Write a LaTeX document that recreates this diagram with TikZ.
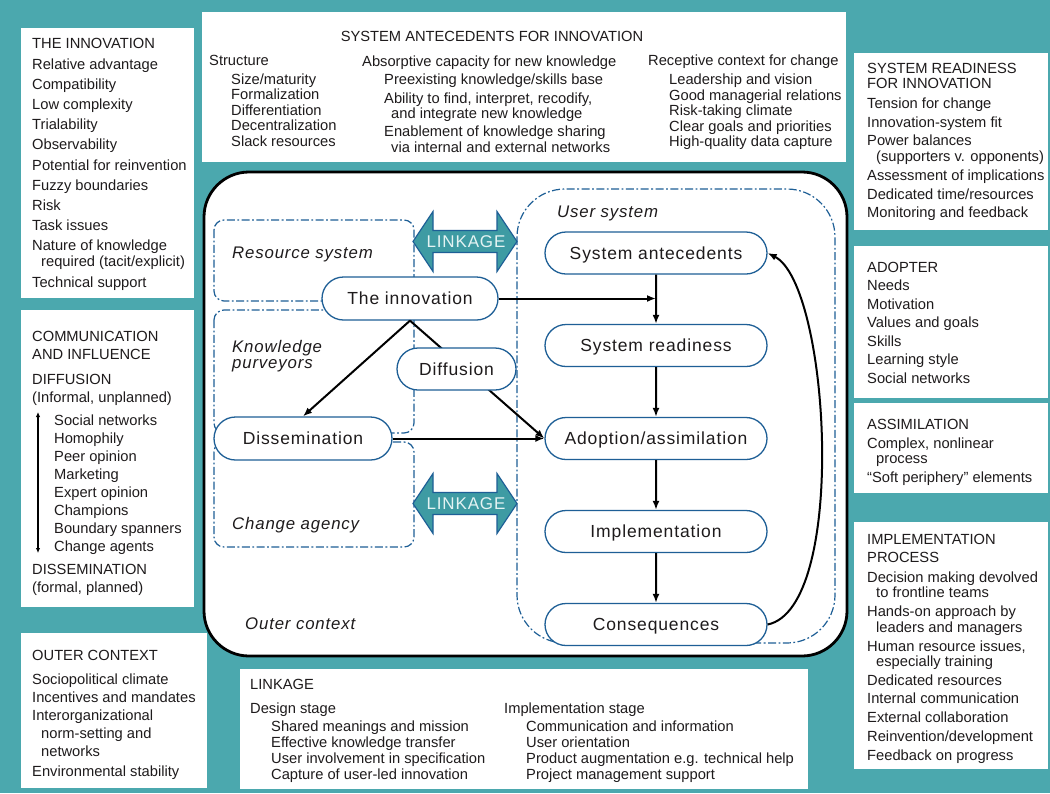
\documentclass[tikz,border=0pt]{standalone}
\usepackage{fontspec}
\setmainfont{Liberation Sans}
\newfontfamily\nodefont[LetterSpace=5]{Liberation Sans}
\usetikzlibrary{arrows.meta,shapes.misc}
\definecolor{teal0}{RGB}{75,168,174}
\definecolor{arrowfill}{RGB}{62,155,163}
\definecolor{nblue}{RGB}{30,95,150}
\definecolor{txt}{RGB}{30,27,28}
\definecolor{linktxt}{RGB}{228,243,243}
\newcommand\bxf[1]{\fontsize{14.7}{#1}\selectfont}
\begin{document}
\begin{tikzpicture}[x=1pt,y=-1pt,
  panel/.style={fill=white,draw=none},
  bt/.style={anchor=north west,inner sep=0pt,align=left,text=txt},
  ddot/.style={draw=nblue,line width=1.2pt,dash pattern=on 8pt off 2.5pt on 1.8pt off 2.5pt},
  proc/.style={rounded rectangle,draw=nblue,line width=1.3pt,fill=white,minimum height=42pt,
    inner sep=0pt,text height=12pt,text depth=0pt,text=txt,font=\nodefont\fontsize{17.5}{20}\selectfont},
  lab/.style={inner sep=0pt,text=txt,font=\nodefont\itshape\fontsize{16.8}{16.3}\selectfont},
  linklab/.style={inner sep=0pt,text=linktxt,text height=12pt,text depth=0pt,font=\nodefont\fontsize{17}{20}\selectfont},
  conn/.style={-{Latex[length=9pt,width=7pt]},line width=2pt,black},
  linkarrow/.style={draw=nblue,line width=1.2pt,fill=arrowfill,line join=miter}
]
\useasboundingbox (0,0) rectangle (1050,793);
\fill[teal0] (0,0) rectangle (1050,793);

% white panels
\fill[panel] (21,28) rectangle (194,298);
\fill[panel] (202,12) rectangle (846,162);
\fill[panel] (21,310) rectangle (194,607);
\fill[panel] (21,633) rectangle (207,788);
\fill[panel] (240,669) rectangle (808,789);
\fill[panel] (854,53) rectangle (1048,230);
\fill[panel] (854,246) rectangle (1048,398);
\fill[panel] (854,403) rectangle (1048,493);
\fill[panel] (854,522) rectangle (1048,769);

% THE INNOVATION
\node[bt,font=\bxf{16}] (tinnov) at (32,37.7) {THE INNOVATION\\[5pt]
Relative advantage\\[4.2pt]
Compatibility\\[4.2pt]
Low complexity\\[4.2pt]
Trialability\\[4.2pt]
Observability\\[4.2pt]
Potential for reinvention\\[4.2pt]
Fuzzy boundaries\\[4.2pt]
Risk\\[4.2pt]
Task issues\\[4.2pt]
Nature of knowledge\\
\hspace*{9pt}required (tacit/explicit)\\[4.2pt]
Technical support};

% COMMUNICATION AND INFLUENCE
\node[bt,font=\bxf{17.9}] (tcomm) at (32,330.7) {COMMUNICATION\\
AND INFLUENCE\\[8pt]
DIFFUSION\\
(Informal, unplanned)\\[5pt]
\hspace*{22pt}Social networks\\
\hspace*{22pt}Homophily\\
\hspace*{22pt}Peer opinion\\
\hspace*{22pt}Marketing\\
\hspace*{22pt}Expert opinion\\
\hspace*{22pt}Champions\\
\hspace*{22pt}Boundary spanners\\
\hspace*{22pt}Change agents\\[6pt]
DISSEMINATION\\
(formal, planned)};
\coordinate (ca1) at (38,412);
\coordinate (ca2) at (38,553);
\draw[{Latex[length=5pt,width=4.5pt]}-{Latex[length=5pt,width=4.5pt]},line width=1.5pt] (ca1) -- (ca2);

% OUTER CONTEXT
\node[bt,font=\bxf{17.8}] (touter) at (32,649.7) {OUTER CONTEXT\\[7pt]
Sociopolitical climate\\
Incentives and mandates\\
Interorganizational\\
\hspace*{9pt}norm-setting and\\
\hspace*{9pt}networks\\[3pt]
Environmental stability};

% SYSTEM ANTECEDENTS
\node[inner sep=0pt,text=txt,font=\bxf{16}] (tsa) at (492,36.5) {SYSTEM ANTECEDENTS FOR INNOVATION};
\node[bt,font=\bxf{15.6}] (tsa1) at (209,54.7) {Structure\\[3.4pt]
\hspace*{22pt}Size/maturity\\
\hspace*{22pt}Formalization\\
\hspace*{22pt}Differentiation\\
\hspace*{22pt}Decentralization\\
\hspace*{22pt}Slack resources};
\node[bt,font=\bxf{15.5}] (tsa2) at (362,55.2) {Absorptive capacity for new knowledge\\[3pt]
\hspace*{22pt}Preexisting knowledge/skills base\\[3pt]
\hspace*{22pt}Ability to find, interpret, recodify,\\
\hspace*{29pt}and integrate new knowledge\\[2.5pt]
\hspace*{22pt}Enablement of knowledge sharing\\
\hspace*{29pt}via internal and external networks};
\node[bt,font=\bxf{15.6}] (tsa3) at (648,54.7) {Receptive context for change\\[3.4pt]
\hspace*{21pt}Leadership and vision\\
\hspace*{21pt}Good managerial relations\\
\hspace*{21pt}Risk-taking climate\\
\hspace*{21pt}Clear goals and priorities\\
\hspace*{21pt}High-quality data capture};

% SYSTEM READINESS
\node[bt,font=\bxf{15.7}] (tsr) at (867,62.7) {SYSTEM READINESS\\
FOR INNOVATION\\[4.3pt]
Tension for change\\[2.8pt]
Innovation-system fit\\[2.8pt]
Power balances\\
\hspace*{9pt}(supporters v. opponents)\\[3.3pt]
Assessment of implications\\[2.8pt]
Dedicated time/resources\\[2.8pt]
Monitoring and feedback};

% ADOPTER
\node[bt,font=\bxf{18.5}] (tad) at (867,261.7) {ADOPTER\\
Needs\\
Motivation\\
Values and goals\\
Skills\\
Learning style\\
Social networks};

% ASSIMILATION
\node[bt,font=\bxf{15.5}] (tas) at (867,418.7) {ASSIMILATION\\[3.5pt]
Complex, nonlinear\\
\hspace*{9pt}process\\[3.5pt]
“Soft periphery” elements};

% IMPLEMENTATION PROCESS
\node[bt,font=\bxf{15.5}] (tim) at (867,533.7) {IMPLEMENTATION\\[2.5pt]
PROCESS\\[4.5pt]
Decision making devolved\\
\hspace*{9pt}to frontline teams\\[3.5pt]
Hands-on approach by\\
\hspace*{9pt}leaders and managers\\[3.5pt]
Human resource issues,\\
\hspace*{9pt}especially training\\[3pt]
Dedicated resources\\[3.3pt]
Internal communication\\[3pt]
External collaboration\\[3.3pt]
Reinvention/development\\[3.3pt]
Feedback on progress};

% LINKAGE panel
\node[bt,font=\bxf{16}] (tl1) at (250,678.7) {LINKAGE\\[8pt]
Design stage\\[2pt]
\hspace*{21pt}Shared meanings and mission\\
\hspace*{21pt}Effective knowledge transfer\\
\hspace*{21pt}User involvement in specification\\
\hspace*{21pt}Capture of user-led innovation};
\node[bt,font=\bxf{16}] (tl2) at (504,702.7) {Implementation stage\\[2pt]
\hspace*{22pt}Communication and information\\
\hspace*{22pt}User orientation\\
\hspace*{22pt}Product augmentation e.g. technical help\\
\hspace*{22pt}Project management support};

% big outer context frame
\draw[line width=2.8pt,fill=white,rounded corners=45pt] (204,172) rectangle (847,656);

% dash-dot subsystems
\draw[ddot,rounded corners=10pt] (214,220) rectangle (414,301);
\draw[ddot,rounded corners=10pt] (214,310) rectangle (414,433);
\draw[ddot,rounded corners=10pt] (214,442) rectangle (414,547);
\draw[ddot,rounded corners=48pt] (517,189) rectangle (835,643);

% labels
\node[lab,anchor=west,text height=12pt,text depth=0pt] (lres) at (232,252) {Resource system};
\node[lab,anchor=north west,align=left] (lkp) at (232,339.8) {Knowledge\\purveyors};
\node[lab,anchor=west,text height=12pt,text depth=0pt] (lca) at (232,523.5) {Change agency};
\node[lab,anchor=west,text height=12pt,text depth=0pt] (loc) at (245,623.5) {Outer context};
\node[lab,anchor=west,text height=12pt,text depth=0pt] (lus) at (557,211) {User system};

% LINKAGE arrows
\foreach \cy/\nm in {241.5/linkA,503.5/linkB}{
  \draw[linkarrow] (413,\cy) -- ++(20,-30) -- ++(0,19) -- ++(64,0) -- ++(0,-19) -- ++(20,30)
     -- ++(-20,30) -- ++(0,-19) -- ++(-64,0) -- ++(0,19) -- cycle;
  \node[linklab] (\nm) at (466,\cy) {LINKAGE};
}

% process nodes
\node[proc,minimum width=222pt] (sa) at (656,253) {System antecedents};
\node[proc,minimum width=222pt] (sr) at (656,345.5) {System readiness};
\node[proc,minimum width=222pt] (adopt) at (656,438.5) {Adoption/assimilation};
\node[proc,minimum width=222pt] (impl) at (656,531.5) {Implementation};
\node[proc,minimum width=222pt] (cons) at (656,624.5) {Consequences};
\node[proc,minimum width=176pt,minimum height=43pt] (innov) at (410,298.5) {The innovation};
\node[proc,minimum width=178pt,minimum height=43pt] (dissem) at (303,438.5) {Dissemination};

% connectors
\coordinate (j) at (sa.south |- innov.east);
\draw[conn] (sa) -- (sr);
\draw[conn] (sr) -- (adopt);
\draw[conn] (adopt) -- (impl);
\draw[conn] (impl) -- (cons);
\draw[conn] (innov.east) -- (j);
\draw[conn] (innov.south) -- (dissem.north);
\draw[conn] (innov.south) -- (adopt.west);
\draw[conn] (dissem.east) -- (adopt.west);
\draw[conn] (cons.east) .. controls (848,608) and (830,285) .. (sa.east);

\node[proc,minimum width=119pt] (diff) at (456.5,369) {Diffusion};
\end{tikzpicture}
\end{document}
